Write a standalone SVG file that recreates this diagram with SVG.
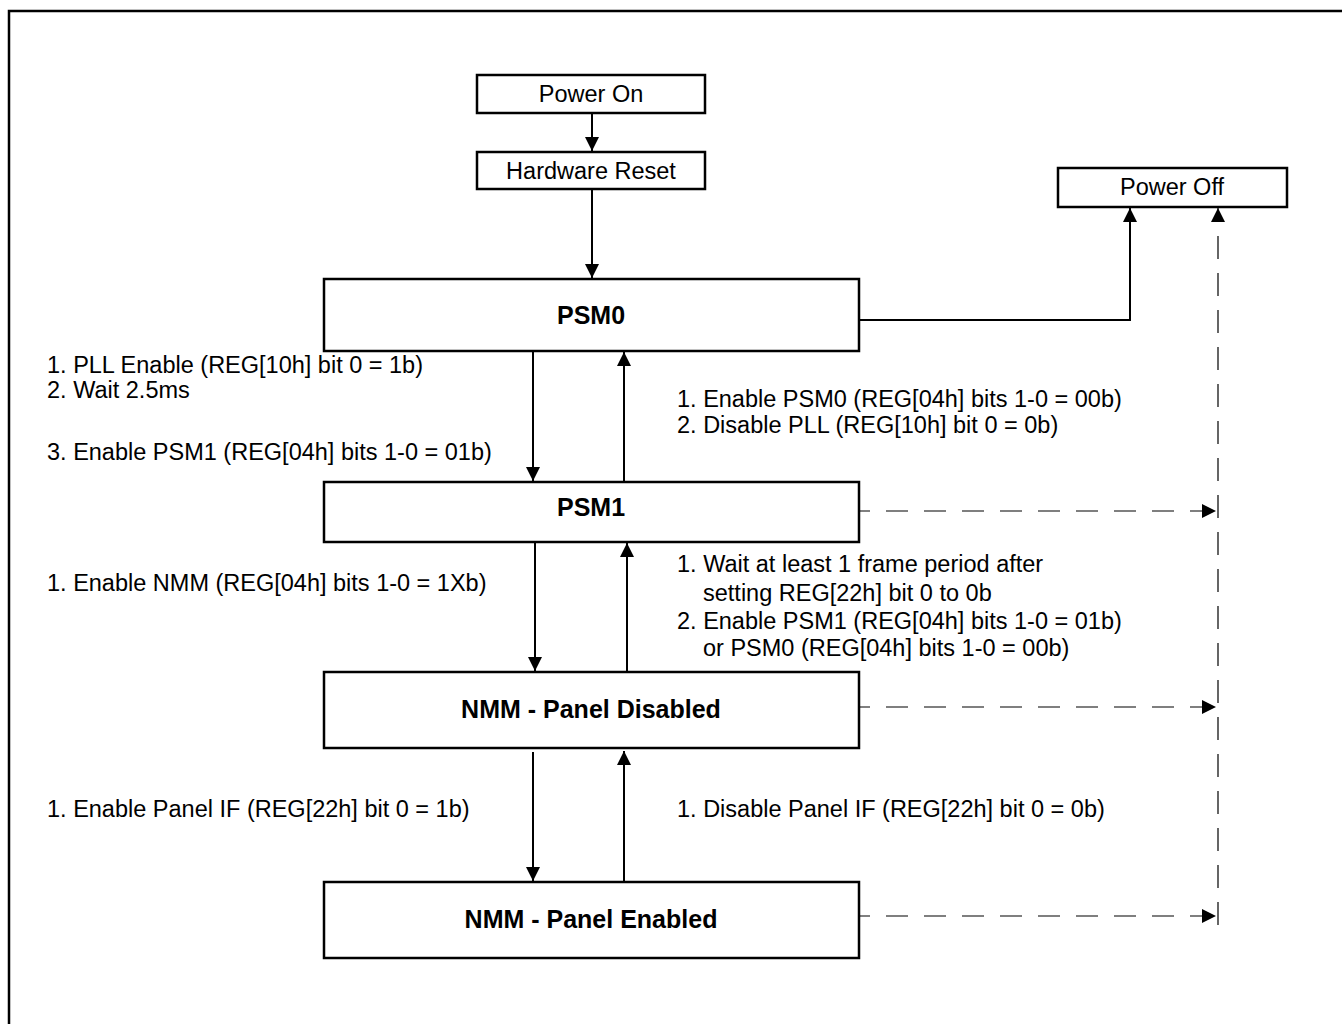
<svg xmlns="http://www.w3.org/2000/svg" width="1342" height="1024" viewBox="0 0 1342 1024">
<style>
.box{fill:#fff;stroke:#000;stroke-width:2.5}
.t{font-family:"Liberation Sans",Arial,sans-serif;font-size:23.5px;fill:#000}
.b{font-family:"Liberation Sans",Arial,sans-serif;font-size:25px;font-weight:bold;fill:#000}
.c{text-anchor:middle}
.ln{fill:none;stroke:#000;stroke-width:2}
.ds{fill:none;stroke:#000;stroke-width:1.2;stroke-dasharray:22 16}
</style>
<defs>
<marker id="ah" viewBox="0 0 10 10" refX="10" refY="5" markerWidth="14" markerHeight="14" markerUnits="userSpaceOnUse" orient="auto">
<path d="M0,0 L10,5 L0,10 Z" fill="#000"/>
</marker>
</defs>
<rect x="0" y="0" width="1342" height="1024" fill="#fff"/>
<rect x="9" y="11" width="1345" height="1030" fill="none" stroke="#000" stroke-width="2.5"/>

<g id="connectors">
<line class="ln" x1="592" y1="113" x2="592" y2="151" marker-end="url(#ah)"/>
<line class="ln" x1="592" y1="190" x2="592" y2="278" marker-end="url(#ah)"/>
<polyline class="ln" points="859,320 1130,320 1130,208" marker-end="url(#ah)"/>
<line class="ln" x1="533" y1="352" x2="533" y2="481" marker-end="url(#ah)"/>
<line class="ln" x1="624" y1="482" x2="624" y2="352" marker-end="url(#ah)"/>
<line class="ln" x1="535" y1="543" x2="535" y2="671" marker-end="url(#ah)"/>
<line class="ln" x1="627" y1="672" x2="627" y2="543" marker-end="url(#ah)"/>
<line class="ln" x1="533" y1="752" x2="533" y2="881" marker-end="url(#ah)"/>
<line class="ln" x1="624" y1="881" x2="624" y2="751" marker-end="url(#ah)"/>
<line class="ds" x1="1218" y1="925" x2="1218" y2="208" marker-end="url(#ah)" style="stroke-dasharray:23 14"/>
<line class="ds" x1="860" y1="511" x2="1216" y2="511" marker-end="url(#ah)" style="stroke-dashoffset:12"/>
<line class="ds" x1="860" y1="707" x2="1216" y2="707" marker-end="url(#ah)" style="stroke-dashoffset:12"/>
<line class="ds" x1="860" y1="916" x2="1216" y2="916" marker-end="url(#ah)" style="stroke-dashoffset:12"/>
</g>

<g id="power-on"><rect class="box" x="477" y="75" width="228" height="38"/><text class="t c" x="591" y="102">Power On</text></g>
<g id="hardware-reset"><rect class="box" x="477" y="152" width="228" height="37"/><text class="t c" x="591" y="179">Hardware Reset</text></g>
<g id="power-off"><rect class="box" x="1058" y="168" width="229" height="39"/><text class="t c" x="1172" y="195">Power Off</text></g>
<g id="psm0"><rect class="box" x="324" y="279" width="535" height="72"/><text class="b c" x="591" y="324">PSM0</text></g>
<g id="psm1"><rect class="box" x="324" y="482" width="535" height="60"/><text class="b c" x="591" y="516">PSM1</text></g>
<g id="nmm-pd"><rect class="box" x="324" y="672" width="535" height="76"/><text class="b c" x="591" y="718">NMM - Panel Disabled</text></g>
<g id="nmm-pe"><rect class="box" x="324" y="882" width="535" height="76"/><text class="b c" x="591" y="928">NMM - Panel Enabled</text></g>

<g id="labels">
<text class="t" x="47" y="373">1. PLL Enable (REG[10h] bit 0 = 1b)</text>
<text class="t" x="47" y="398">2. Wait 2.5ms</text>
<text class="t" x="47" y="460">3. Enable PSM1 (REG[04h] bits 1-0 = 01b)</text>
<text class="t" x="677" y="407">1. Enable PSM0 (REG[04h] bits 1-0 = 00b)</text>
<text class="t" x="677" y="433">2. Disable PLL (REG[10h] bit 0 = 0b)</text>
<text class="t" x="47" y="591">1. Enable NMM (REG[04h] bits 1-0 = 1Xb)</text>
<text class="t" x="677" y="572">1. Wait at least 1 frame period after</text>
<text class="t" x="703" y="601">setting REG[22h] bit 0 to 0b</text>
<text class="t" x="677" y="629">2. Enable PSM1 (REG[04h] bits 1-0 = 01b)</text>
<text class="t" x="703" y="656">or PSM0 (REG[04h] bits 1-0 = 00b)</text>
<text class="t" x="47" y="817">1. Enable Panel IF (REG[22h] bit 0 = 1b)</text>
<text class="t" x="677" y="817">1. Disable Panel IF (REG[22h] bit 0 = 0b)</text>
</g>
</svg>
